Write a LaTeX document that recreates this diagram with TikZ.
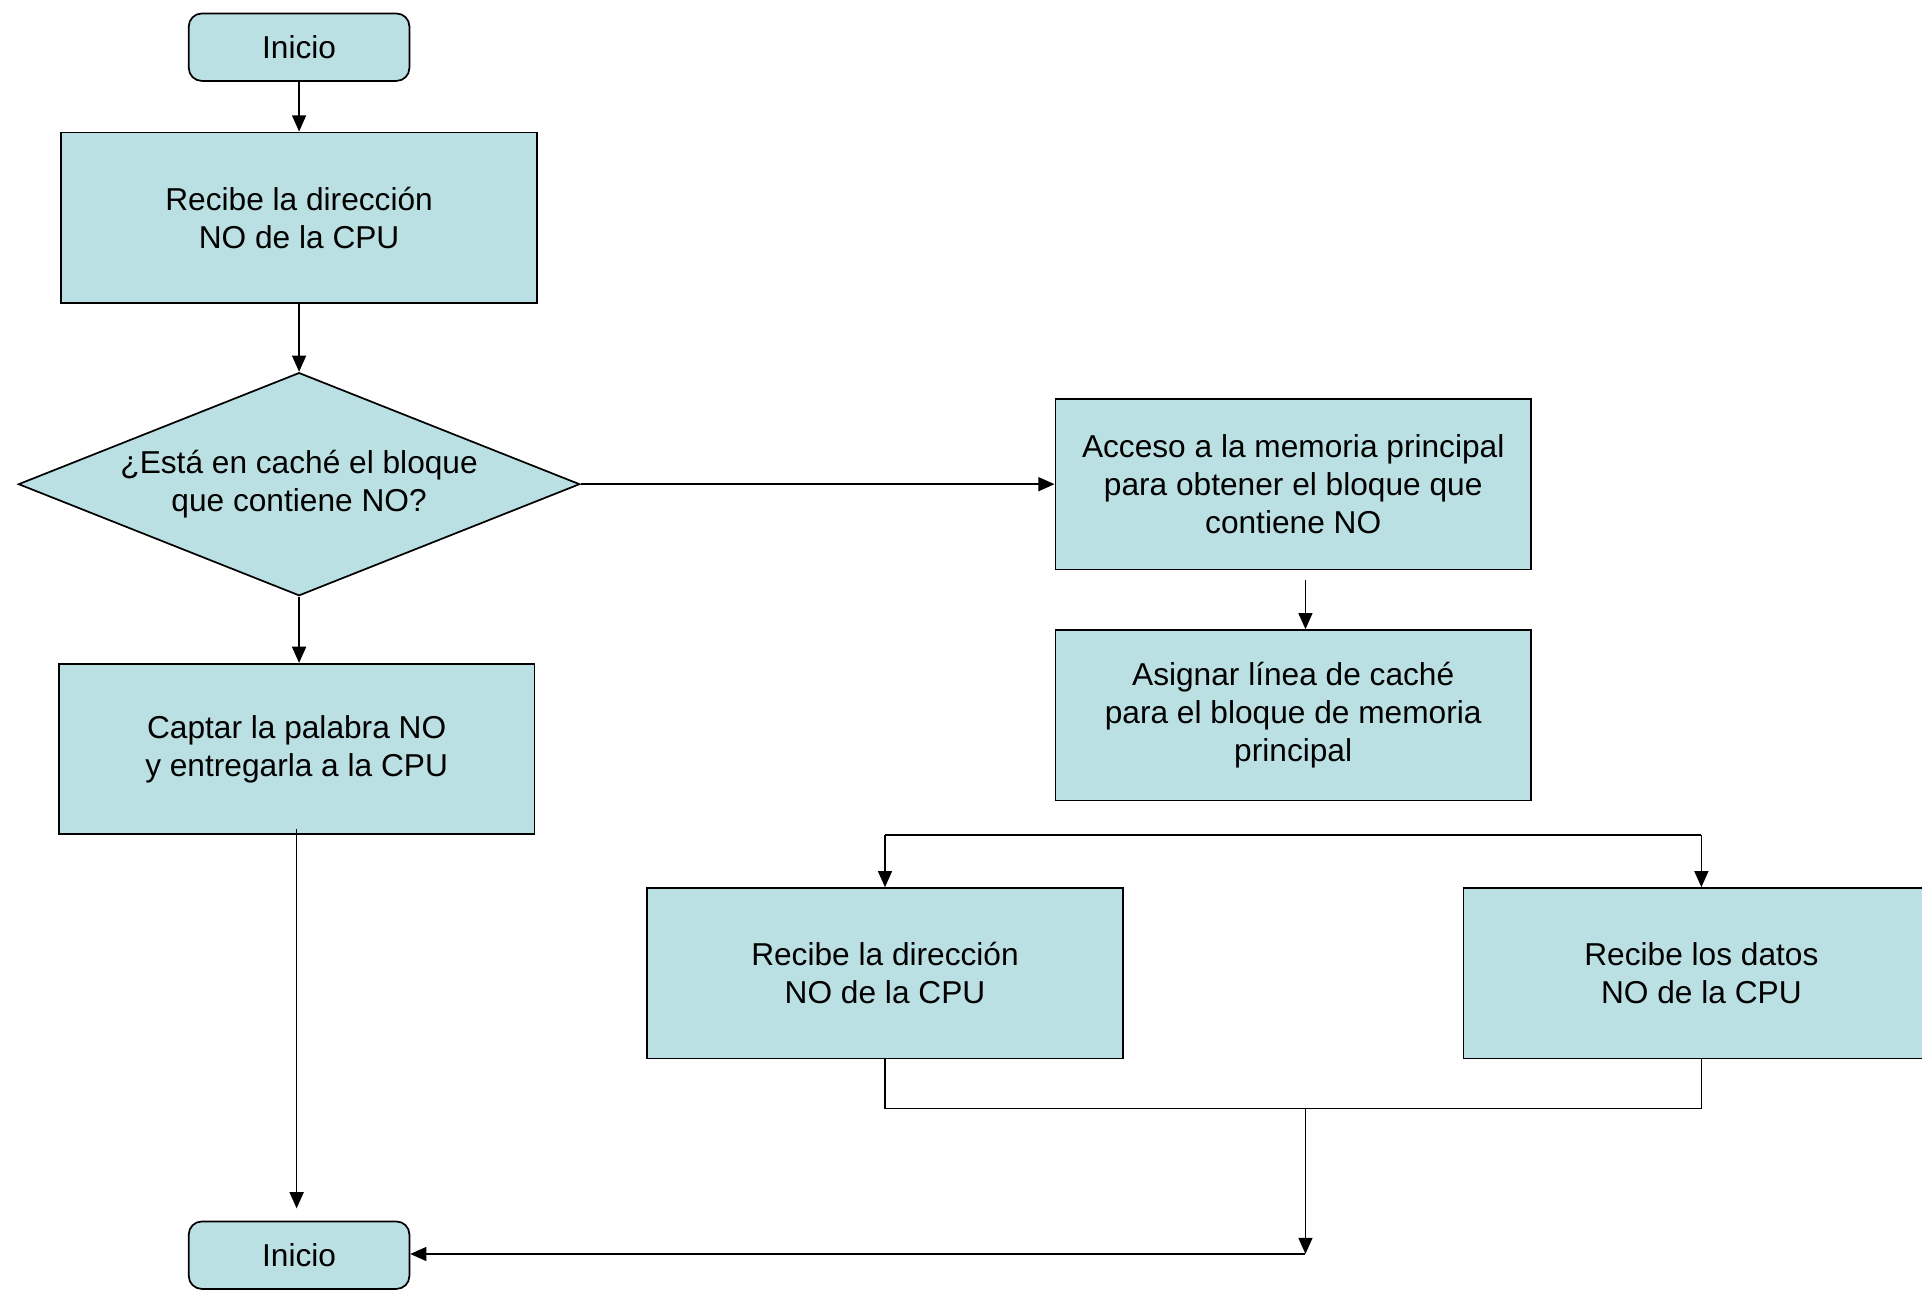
\documentclass[tikz,border=0pt]{standalone}
\usepackage{fontspec}
\setmainfont{Liberation Sans}
\usetikzlibrary{arrows.meta,shapes.geometric}
\definecolor{cajafill}{RGB}{187,224,227}
\tikzset{arrow/.style={-{Triangle[length=7.5pt,width=6.5pt]}, line width=0.7pt}}
\tikzset{caja/.style={draw, fill=cajafill, line width=0.8pt, align=center,
    minimum width=7.76cm, minimum height=2.78cm, font=\fontsize{14.7}{17.6}\selectfont}}
\tikzset{terminal/.style={caja, rounded corners=6pt, minimum width=3.6cm, minimum height=1.1cm}}
\tikzset{decision/.style={caja, diamond, aspect=2.52, inner sep=0pt,
    minimum width=9.16cm, minimum height=3.64cm}}

\begin{document}
\begin{tikzpicture}
    \useasboundingbox (0, 0) rectangle (31.36, -21.04);
    \node[terminal] (inicio) at (4.88, -0.77) {Inicio};
    \node[caja] (recibe) at (4.88, -3.55) {Recibe la dirección\\NO de la CPU};
    \node[decision] (bloque) at (4.88, -7.9) {¿Está en caché el bloque\\que contiene NO?};
    \node[caja] (captar) at (4.84, -12.22) {Captar la palabra NO\\y entregarla a la CPU};
    \node[caja] (acceso) at (21.1, -7.9) {Acceso a la memoria principal\\para obtener el bloque que\\contiene NO};
    \node[caja] (asignar) at (21.1, -11.67) {Asignar línea de caché\\para el bloque de memoria\\principal};
    \node[caja] (recdir) at (14.44, -15.88) {Recibe la dirección\\NO de la CPU};
    \node[caja] (recdatos) at (27.76, -15.88) {Recibe los datos\\NO de la CPU};
    \node[terminal] (fin) at (4.88, -20.48) {Inicio};
    \coordinate (forkL) at (14.44, -13.62);
    \coordinate (forkR) at (27.76, -13.62);
    \coordinate (joinL) at (14.44, -18.08);
    \coordinate (joinR) at (27.76, -18.08);
    \coordinate (joinM) at (21.3, -18.08);
    \coordinate (back) at (21.3, -20.46);
    \draw[arrow] (inicio) -- (recibe);
    \draw[arrow] (recibe) -- (bloque);
    \draw[arrow] (bloque.south) -- (bloque.south |- captar.north);
    \draw[arrow] (bloque.east) -- (bloque.east -| acceso.west);
    \draw[arrow] ([xshift=2mm, yshift=-1.6mm]acceso.south) -- ([xshift=2mm]asignar.north);
    \draw[line width=0.7pt] (forkL) -- (forkR);
    \draw[arrow] (forkL) -- (recdir.north);
    \draw[arrow] (forkR) -- (recdatos.north);
    \draw[line width=0.5pt] (recdir.south) -- (joinL) -- (joinR) -- (recdatos.south);
    \draw[arrow] (joinM) -- (back);
    \draw[arrow] (back) -- (back -| fin.east);
    \draw[arrow] ([yshift=1mm]captar.south) -- ([yshift=2mm]captar.south |- fin.north);
\end{tikzpicture}
\end{document}
